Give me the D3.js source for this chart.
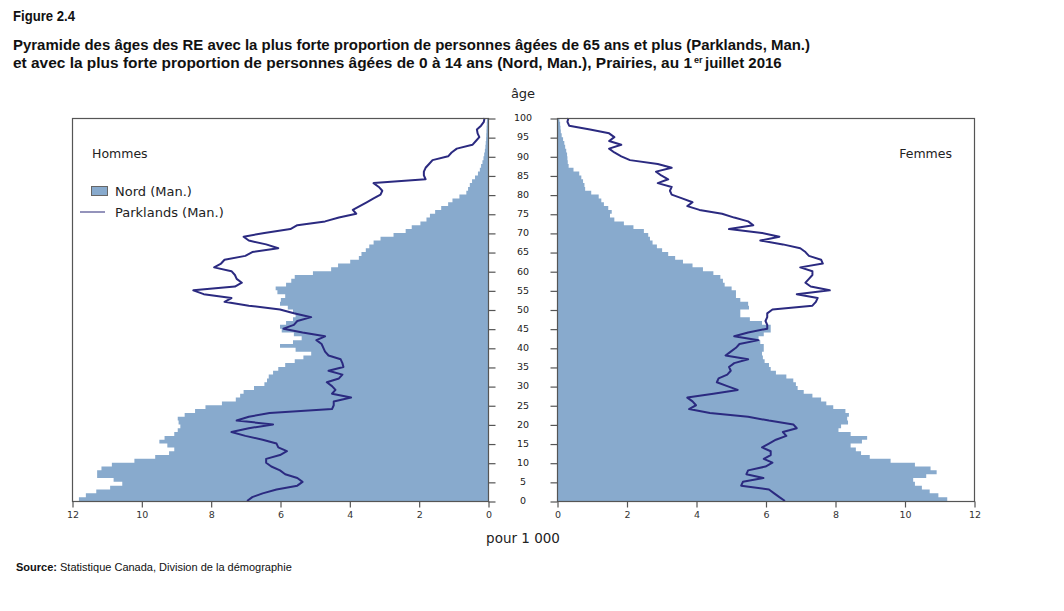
<!DOCTYPE html>
<html lang="fr">
<head>
<meta charset="UTF-8" />
<title>Figure 2.4</title>
<script src="https://cdn.jsdelivr.net/npm/d3@7"></script>
<style>
  body { margin: 0; background: #fff; }
  .tick text { font-family: "DejaVu Sans", Verdana, sans-serif; font-size: 9.5px; fill: #333; }
  .lbl { font-family: "DejaVu Sans", Verdana, sans-serif; fill: #222; }
  .ttl { font-family: "Liberation Sans", Arial, sans-serif; font-weight: bold; fill: #111; }
</style>
</head>
<body>
<script>
// ages 0..100
var ages = d3.range(0, 101);
var ageTicks = [0, 5, 10, 15, 20, 25, 30, 35, 40, 45, 50, 55, 60, 65, 70, 75, 80, 85, 90, 95, 100];
var valueTicks = [0, 2, 4, 6, 8, 10, 12];

// pour 1 000, hommes
var nordHommes = [11.9, 11.7, 11.5, 11.1, 10.7, 10.4, 11.2, 11.35, 11.2, 11.1,
  10.6, 9.8, 9.4, 9.0, 9.1, 9.4, 9.56, 9.1, 9.0, 8.9,
  8.85, 9.0, 8.9, 8.6, 8.3, 8.0, 7.35, 7.2, 7.1, 7.0,
  6.5, 6.4, 6.35, 6.3, 6.1, 6.0, 5.7, 5.45, 5.2, 5.0,
  6.1, 5.9, 5.35, 5.4, 5.8, 6.1, 5.9, 5.75, 5.5, 5.6,
  5.65, 5.9, 6.1, 5.85, 5.85, 6.3, 5.95, 5.7, 5.65, 5.5,
  4.6, 4.45, 4.2, 3.75, 3.7, 3.6, 3.45, 3.4, 3.2, 3.0,
  2.45, 2.3, 2.1, 1.8, 1.75, 1.6, 1.45, 1.25, 1.05, 1.0,
  0.65, 0.6, 0.55, 0.5, 0.42, 0.33, 0.25, 0.22, 0.18, 0.14,
  0.12, 0.1, 0.08, 0.07, 0.06, 0.05, 0.05, 0.04, 0.04, 0.03, 0.03];
var parklandsHommes = [6.95, 6.8, 6.5, 6.1, 5.5, 5.35, 5.5, 5.85, 6.0, 6.25,
  6.4, 6.4, 6.0, 5.8, 6.05, 6.1, 6.5, 7.0, 7.4, 6.9,
  6.2, 7.25, 6.9, 6.3, 4.5, 4.45, 4.45, 3.95, 4.5, 4.4,
  4.5, 4.65, 4.3, 4.2, 4.6, 4.17, 4.2, 4.25, 4.6, 4.7,
  4.75, 4.8, 4.95, 4.7, 5.35, 5.9, 5.6, 5.5, 5.1, 5.6,
  6.0, 6.9, 7.6, 7.4, 8.2, 8.5, 7.3, 7.1, 7.25, 7.3,
  7.4, 7.9, 7.7, 7.6, 7.0, 6.8, 6.05, 6.4, 6.9, 7.05,
  6.45, 5.7, 5.5, 4.7, 4.3, 3.8, 3.9, 3.7, 3.5, 3.3,
  3.1, 3.05, 3.15, 3.3, 1.8, 1.85, 1.85, 1.8, 1.7, 1.6,
  1.15, 1.05, 0.9, 0.45, 0.35, 0.25, 0.3, 0.32, 0.2, 0.12, 0.1];

// pour 1 000, femmes
var nordFemmes = [11.36, 11.1, 10.85, 10.6, 10.4, 10.2, 10.3, 10.95, 10.9, 10.6,
  10.0, 9.2, 8.8, 8.7, 8.5, 8.4, 9.15, 8.7, 8.2, 8.0,
  8.35, 8.4, 8.3, 8.5, 8.1, 7.8, 7.7, 7.5, 7.2, 7.0,
  6.85, 6.9, 6.7, 6.5, 6.1, 6.2, 6.0, 5.95, 5.9, 5.9,
  6.0, 5.9, 5.8, 5.8, 6.1, 6.2, 6.1, 5.7, 5.4, 5.15,
  5.4, 5.65, 5.35, 5.2, 5.1, 5.2, 4.85, 4.8, 4.75, 4.65,
  4.35, 4.05, 3.75, 3.5, 3.3, 3.1, 2.95, 2.8, 2.7, 2.65,
  2.6, 2.4, 2.0, 1.85, 1.45, 1.6, 1.55, 1.4, 1.3, 1.25,
  1.15, 0.82, 0.8, 0.78, 0.72, 0.68, 0.6, 0.35, 0.32, 0.3,
  0.3, 0.28, 0.25, 0.22, 0.2, 0.15, 0.12, 0.1, 0.1, 0.08, 0.06];
var parklandsFemmes = [6.56, 6.4, 6.25, 6.1, 5.3, 5.35, 5.94, 5.45, 5.5, 6.0,
  6.2, 5.95, 6.15, 6.15, 5.9, 6.1, 6.3, 6.6, 6.5, 6.9,
  6.8, 6.1, 5.5, 4.4, 3.8, 4.0, 3.9, 3.75, 4.5, 5.2,
  4.9, 4.6, 4.65, 4.9, 5.0, 4.95, 5.1, 5.5, 4.85, 5.0,
  5.15, 5.25, 5.8, 5.1, 5.5, 6.05, 6.05, 6.0, 6.05, 6.05,
  6.2, 7.35, 7.45, 7.5, 6.9, 7.85, 7.3, 7.15, 7.25, 7.35,
  7.35, 7.0, 7.65, 7.6, 7.25, 7.15, 7.0, 6.5, 5.85, 6.4,
  5.9, 4.95, 5.65, 5.5, 5.1, 4.75, 4.1, 3.75, 3.9, 3.6,
  3.3, 3.25, 3.3, 2.9, 3.2, 3.0, 2.85, 3.3, 2.9, 2.1,
  1.85, 1.65, 1.5, 1.85, 1.5, 1.65, 1.5, 0.95, 0.35, 0.3, 0.33];

var W = 1064, H = 611;
var areaColor = "#88aacd";
var lineColor = "#2b2a80";

var svg = d3.select("body").append("svg")
  .attr("width", W)
  .attr("height", H);

// titres
svg.append("text").attr("class", "ttl").attr("x", 13).attr("y", 21)
  .attr("font-size", "14px").attr("textLength", 62).attr("lengthAdjust", "spacingAndGlyphs")
  .text("Figure 2.4");
svg.append("text").attr("class", "ttl").attr("x", 13).attr("y", 50)
  .attr("font-size", "15px").attr("textLength", 797).attr("lengthAdjust", "spacingAndGlyphs")
  .text("Pyramide des âges des RE avec la plus forte proportion de personnes âgées de 65 ans et plus (Parklands, Man.)");
var t3 = svg.append("text").attr("class", "ttl").attr("x", 13).attr("y", 68)
  .attr("font-size", "15px");
t3.append("tspan").attr("textLength", 679).attr("lengthAdjust", "spacingAndGlyphs")
  .text("et avec la plus forte proportion de personnes âgées de 0 à 14 ans (Nord, Man.), Prairies, au 1");
t3.append("tspan").attr("x", 694).attr("font-size", "9px").attr("dy", -5).text("er");
t3.append("tspan").attr("x", 705).attr("dy", 5).text("juillet 2016");

// echelles
var y = d3.scaleLinear().domain([0, 100]).range([501, 118]);
var xL = d3.scaleLinear().domain([0, 12]).range([488, 72]);
var xR = d3.scaleLinear().domain([0, 12]).range([557, 974]);

function panel(x, nord, park) {
  var g = svg.append("g");
  var area = d3.area()
    .curve(d3.curveStep)
    .y(function(d) { return y(d); })
    .x0(x(0))
    .x1(function(d) { return x(nord[d]); });
  g.append("path").datum(ages)
    .attr("d", area)
    .attr("fill", areaColor);
  var line = d3.line()
    .x(function(d) { return x(park[d]); })
    .y(function(d) { return y(d); });
  g.append("path").datum(ages)
    .attr("d", line)
    .attr("fill", "none")
    .attr("stroke", lineColor)
    .attr("stroke-width", 2)
    .attr("stroke-linejoin", "round");
  var r = x.range();
  g.append("rect")
    .attr("x", Math.min(r[0], r[1]) + 0.5)
    .attr("y", 118.5)
    .attr("width", Math.abs(r[1] - r[0]))
    .attr("height", 383)
    .attr("fill", "none")
    .attr("stroke", "#555")
    .attr("stroke-width", 1.2);

  var xa = svg.append("g")
    .attr("transform", "translate(0.5,501.5)")
    .call(d3.axisBottom(x).tickValues(valueTicks).tickSize(6).tickSizeOuter(0).tickPadding(4));
  xa.select(".domain").remove();
  xa.selectAll("line").attr("stroke", "#555").attr("stroke-width", 1.2);
  return g;
}

panel(xL, nordHommes, parklandsHommes);
panel(xR, nordFemmes, parklandsFemmes);

// ticks des âges
var ayL = svg.append("g").attr("transform", "translate(488.5,0.5)")
  .call(d3.axisRight(y).tickValues(ageTicks).tickSize(7).tickFormat(""));
var ayR = svg.append("g").attr("transform", "translate(557.5,0.5)")
  .call(d3.axisLeft(y).tickValues(ageTicks).tickSize(7).tickFormat(""));
[ayL, ayR].forEach(function(a) {
  a.select(".domain").remove();
  a.selectAll("line").attr("stroke", "#555").attr("stroke-width", 1.2);
});
svg.append("g").selectAll("text")
  .data(ageTicks)
  .enter()
  .append("text")
  .attr("class", "lbl")
  .attr("x", 523)
  .attr("y", function(d) { return y(d); })
  .attr("dy", "0.35em")
  .attr("text-anchor", "middle")
  .attr("font-size", "9.5px")
  .attr("fill", "#333")
  .text(function(d) { return d; });

svg.append("text").attr("class", "lbl").attr("x", 523).attr("y", 98)
  .attr("text-anchor", "middle").attr("font-size", "13px").text("âge");
svg.append("text").attr("class", "lbl").attr("x", 523).attr("y", 543)
  .attr("text-anchor", "middle").attr("font-size", "13.5px").text("pour 1 000");

svg.append("text").attr("class", "lbl").attr("x", 92).attr("y", 158)
  .attr("font-size", "12.5px").text("Hommes");
svg.append("text").attr("class", "lbl").attr("x", 952).attr("y", 158)
  .attr("text-anchor", "end").attr("font-size", "12.5px").text("Femmes");

// légende
var leg = svg.append("g");
leg.append("rect").attr("x", 91.5).attr("y", 186.5).attr("width", 16).attr("height", 9)
  .attr("fill", areaColor).attr("stroke", "#666");
leg.append("text").attr("class", "lbl").attr("x", 115).attr("y", 196)
  .attr("font-size", "13px").text("Nord (Man.)");
leg.append("line").attr("x1", 80).attr("x2", 105).attr("y1", 212).attr("y2", 212)
  .attr("stroke", "#5a5896").attr("stroke-width", 1.3);
leg.append("text").attr("class", "lbl").attr("x", 115).attr("y", 217)
  .attr("font-size", "13px").text("Parklands (Man.)");

// source
var src = svg.append("text").attr("x", 16).attr("y", 571)
  .attr("font-family", "'Liberation Sans', Arial, sans-serif")
  .attr("font-size", "11px").attr("fill", "#111");
src.append("tspan").attr("font-weight", "bold").text("Source:");
src.append("tspan").text(" Statistique Canada, Division de la démographie");
</script>
</body>
</html>
